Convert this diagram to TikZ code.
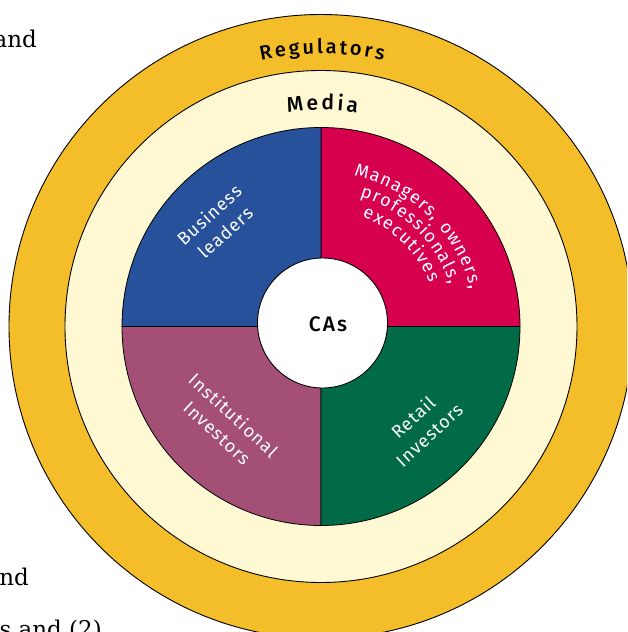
\documentclass[tikz,border=0pt]{standalone}
\usepackage{fontspec}
\usetikzlibrary{decorations.text}
\setmainfont{DejaVu Serif}
\newfontfamily\lblfont[LetterSpace=6]{Fira Sans}
\newfontfamily\ringfont{Fira Sans Medium}
\definecolor{ringyellow}{HTML}{F3BE29}
\definecolor{ringcream}{HTML}{FEF9D3}
\definecolor{qblue}{HTML}{27519B}
\definecolor{qred}{HTML}{D7004F}
\definecolor{qmauve}{HTML}{A44F76}
\definecolor{qgreen}{HTML}{016B47}
\begin{document}
\begin{tikzpicture}[x=1pt,y=1pt,
  ring/.style={draw=black, line width=0.9pt},
  quad/.style={draw=black, line width=0.8pt},
  qlabel/.style={text=white, font=\lblfont\fontsize{18}{24}\selectfont, align=center, inner sep=0pt},
  bodytext/.style={font=\fontsize{23}{27}\selectfont, anchor=base east, inner sep=0pt},
  arctext/.style={decorate, decoration={text along path, text align=center, text={#1}}}
]
\useasboundingbox (-321,-305.5) rectangle (306,326.5);
\clip (-321,-305.5) rectangle (306,326.5);
\fill[white] (-321,-305.5) rectangle (306,326.5);
\coordinate (c) at (0,0);

% surrounding paragraph fragments
\node[bodytext] (t1) at (-284,278.5) {and};
\node[bodytext] (t2) at (-292,-258.5) {nd};
\node[bodytext] (t3) at (-219,-311) {s and (2)};

% rings
\draw[ring, fill=ringyellow] (c) circle[radius=312];
\draw[ring, fill=ringcream] (c) circle[radius=256];

% stakeholder quadrants
\draw[quad, fill=qred]   (c) -- (90:199)  arc[start angle=90,  end angle=0,   radius=199] -- cycle;
\draw[quad, fill=qblue]  (c) -- (180:199) arc[start angle=180, end angle=90,  radius=199] -- cycle;
\draw[quad, fill=qmauve] (c) -- (270:199) arc[start angle=270, end angle=180, radius=199] -- cycle;
\draw[quad, fill=qgreen] (c) -- (360:199) arc[start angle=360, end angle=270, radius=199] -- cycle;

% centre disc
\draw[ring, fill=white] (1.5,3.5) circle[radius=65];
\node[font=\ringfont\addfontfeature{LetterSpace=10}\fontsize{21}{21}\selectfont, inner sep=0pt] (cas) at (7,2) {CAs};

% ring captions along arcs (the kern spreads the letters)
\path[arctext={|\ringfont\fontsize{20}{20}\selectfont\kern2.7pt|Regulators}]
  (120:273) arc[start angle=120, end angle=60, radius=273];
\path[arctext={|\ringfont\fontsize{21}{21}\selectfont\kern3pt|Media}]
  (115:216.5) arc[start angle=115, end angle=65, radius=216.5];

% curved label in the upper right quadrant
\path[arctext={|\lblfont\fontsize{18}{18}\selectfont\color{white}\kern1.2pt|Managers, owners,}]
  (88:154) arc[start angle=88, end angle=4, radius=154];
\path[arctext={|\lblfont\fontsize{18}{18}\selectfont\color{white}\kern1.2pt|professionals,}]
  (88:135.5) arc[start angle=88, end angle=4, radius=135.5];
\path[arctext={|\lblfont\fontsize{18}{18}\selectfont\color{white}\kern1.2pt|executives}]
  (88:117) arc[start angle=88, end angle=4, radius=117];

% rotated labels
\node[qlabel, rotate=42] (biz) at (-104,103) {Business\\leaders};
\node[qlabel, rotate=-42.7] (inst) at (-95.5,-97.5) {Institutional\\Investors};
\node[qlabel, rotate=42.5] (retail) at (100,-99.5) {Retail\\Investors};
\end{tikzpicture}
\end{document}
